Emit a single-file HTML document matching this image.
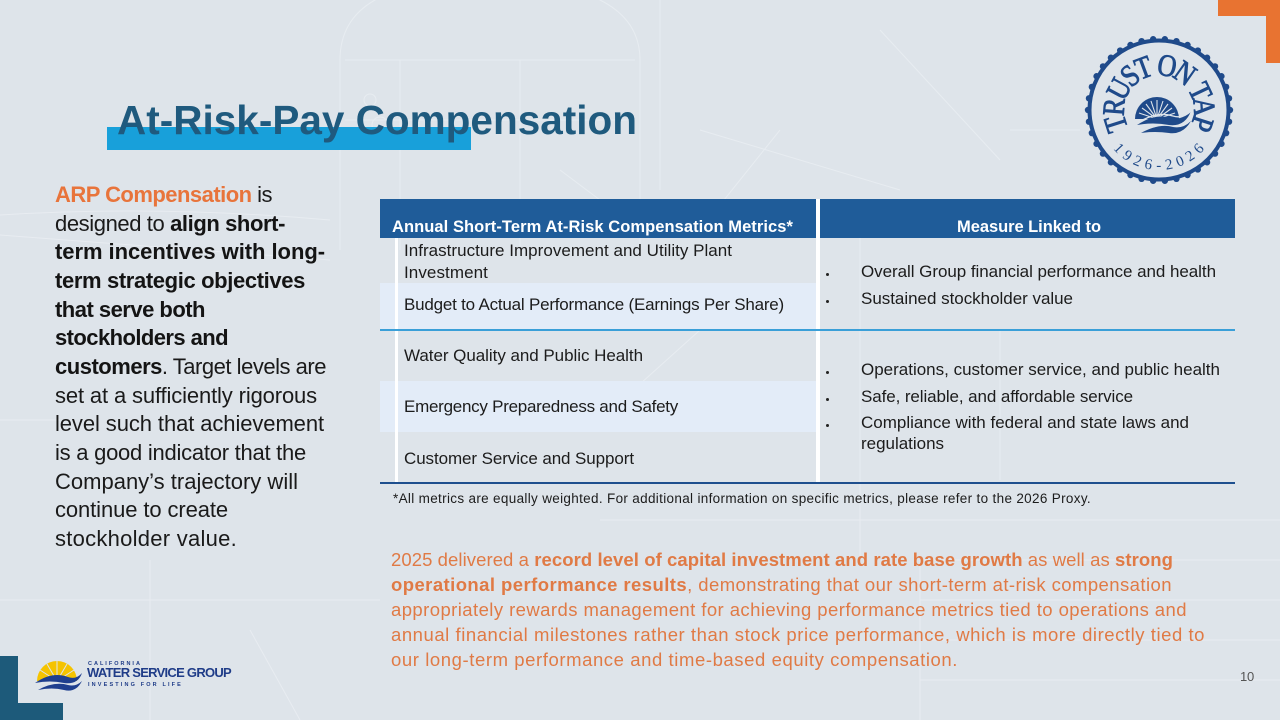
<!DOCTYPE html>
<html><head><meta charset="utf-8">
<style>
*{margin:0;padding:0;box-sizing:border-box}
html,body{width:1280px;height:720px;overflow:hidden}
body{position:relative;background:#dee4ea;font-family:"Liberation Sans",Arial,sans-serif;color:#1a1a1a}
.a{position:absolute}
.f{position:absolute;white-space:nowrap;line-height:1}
.lp{font-size:22px;line-height:28.67px;left:55px}
.lp b{font-weight:bold;color:#141414}
.t16{font-size:17px;color:#1c1c1c}
.hd{font-size:16.5px;font-weight:bold;color:#fff}
.bp{font-size:18.5px;color:#e07a45;left:391px}
.bp b{font-weight:bold}
.dot{position:absolute;width:3px;height:3px;border-radius:50%;background:#222;left:826px}
</style></head><body>

<!-- faint blueprint background -->
<svg class="a" style="left:0;top:0" width="1280" height="720">
<g fill="none" stroke="#f4f7fa" stroke-width="1" opacity="0.45">
<path d="M340 250 L340 60 Q340 -20 480 -20 Q640 -20 640 60 L640 250"/>
<path d="M345 60 L635 60 M345 120 L635 120 M400 60 L400 250 M520 60 L520 250"/>
<path d="M0 235 L330 260 M0 215 Q160 205 330 220"/>
<path d="M660 0 L660 190 M700 130 L900 190 M880 30 L1000 160"/>
<circle cx="380" cy="125" r="8"/><circle cx="370" cy="100" r="6"/>
<path d="M860 200 L860 560 M600 520 L1280 520 M920 560 L1280 560 M920 600 L1280 600 M920 640 L1280 640 M920 680 L1280 680 M920 560 L920 720"/>
<path d="M0 420 L60 420 M0 600 L380 600 M150 560 L150 720 M250 630 L300 720"/>
<path d="M1010 130 L1080 130"/>
<path d="M700 230 L780 130 M560 170 L600 200 M600 420 L700 330 M1000 330 L1000 480"/>
</g>
</svg>

<!-- orange corner -->
<div class="a" style="left:1218px;top:0;width:62px;height:16px;background:#e87331"></div>
<div class="a" style="left:1266px;top:0;width:14px;height:63px;background:#e87331"></div>

<!-- bottom-left teal corner -->
<div class="a" style="left:0;top:656px;width:18px;height:64px;background:#1d5a7a"></div>
<div class="a" style="left:0;top:703px;width:63px;height:17px;background:#1d5a7a"></div>

<!-- title -->
<div class="a" style="left:107px;top:127px;width:364px;height:23px;background:#18a0da"></div>
<div class="f" style="left:117px;top:99.7px;width:520px;font-size:40.5px;font-weight:bold;color:#1f5a7e">At-Risk-Pay Compensation</div>

<!-- left paragraph -->
<div class="f lp" style="top:181px;width:217px"><b style="color:#e8743b">ARP Compensation</b> is</div>
<div class="f lp" style="top:209.7px;width:230px">designed to <b>align short-</b></div>
<div class="f lp" style="top:238.3px;width:270px"><b>term incentives with long-</b></div>
<div class="f lp" style="top:267px;width:250px"><b>term strategic objectives</b></div>
<div class="f lp" style="top:295.7px;width:150px"><b>that serve both</b></div>
<div class="f lp" style="top:324.4px;width:173px"><b>stockholders and</b></div>
<div class="f lp" style="top:353px;width:271px"><b>customers</b>. Target levels are</div>
<div class="f lp" style="top:381.7px;width:262px">set at a sufficiently rigorous</div>
<div class="f lp" style="top:410.4px;width:269px">level such that achievement</div>
<div class="f lp" style="top:439px;width:251px">is a good indicator that the</div>
<div class="f lp" style="top:467.7px;width:243px">Company’s trajectory will</div>
<div class="f lp" style="top:496.4px;width:173px">continue to create</div>
<div class="f lp" style="top:525px;width:182px">stockholder value.</div>

<!-- table -->
<div class="a" style="left:380px;top:199px;width:436px;height:39px;background:#1f5c99"></div>
<div class="a" style="left:820px;top:199px;width:415px;height:39px;background:#1f5c99"></div>
<div class="a" style="left:380px;top:283px;width:436px;height:46px;background:#e3ecf8"></div>
<div class="a" style="left:380px;top:381px;width:436px;height:51px;background:#e3ecf8"></div>
<div class="a" style="left:395px;top:238px;width:3px;height:244px;background:#ffffff"></div>
<div class="a" style="left:816px;top:199px;width:4px;height:283px;background:#ffffff"></div>
<div class="a" style="left:380px;top:329px;width:855px;height:2px;background:#3a9fd8"></div>
<div class="a" style="left:380px;top:482px;width:855px;height:2px;background:#1e4f8e"></div>

<div class="f hd" style="left:392px;top:218.8px;width:401px">Annual Short-Term At-Risk Compensation Metrics*</div>
<div class="f hd" style="left:957px;top:218.8px;width:144px">Measure Linked to</div>

<div class="f t16" style="left:404px;top:241.6px;width:328px">Infrastructure Improvement and Utility Plant</div>
<div class="f t16" style="left:404px;top:264.3px;width:84px">Investment</div>
<div class="f t16" style="left:404px;top:295.6px;width:380px">Budget to Actual Performance (Earnings Per Share)</div>
<div class="f t16" style="left:404px;top:347.3px;width:239px">Water Quality and Public Health</div>
<div class="f t16" style="left:404px;top:398.3px;width:274px">Emergency Preparedness and Safety</div>
<div class="f t16" style="left:404px;top:449.6px;width:230px">Customer Service and Support</div>

<div class="dot" style="top:273px"></div>
<div class="dot" style="top:300px"></div>
<div class="dot" style="top:371px"></div>
<div class="dot" style="top:398px"></div>
<div class="dot" style="top:424px"></div>
<div class="f t16" style="left:861px;top:262.6px;width:355px">Overall Group financial performance and health</div>
<div class="f t16" style="left:861px;top:289.6px;width:212px">Sustained stockholder value</div>
<div class="f t16" style="left:861px;top:360.6px;width:359px">Operations, customer service, and public health</div>
<div class="f t16" style="left:861px;top:387.6px;width:272px">Safe, reliable, and affordable service</div>
<div class="f t16" style="left:861px;top:413.6px;width:328px">Compliance with federal and state laws and</div>
<div class="f t16" style="left:861px;top:434.6px;width:83px">regulations</div>

<div class="f" style="left:393px;top:491.6px;width:698px;font-size:13.5px;color:#1c1c1c">*All metrics are equally weighted. For additional information on specific metrics, please refer to the 2026 Proxy.</div>

<!-- bottom paragraph -->
<div class="f bp" style="top:550.6px;width:782px">2025 delivered a <b>record level of capital investment and rate base growth</b> as well as <b>strong</b></div>
<div class="f bp" style="top:575.6px;width:781px"><b>operational performance results</b>, demonstrating that our short-term at-risk compensation</div>
<div class="f bp" style="top:600.6px;width:796px">appropriately rewards management for achieving performance metrics tied to operations and</div>
<div class="f bp" style="top:625.6px;width:814px">annual financial milestones rather than stock price performance, which is more directly tied to</div>
<div class="f bp" style="top:651.2px;width:567px">our long-term performance and time-based equity compensation.</div>

<div class="f" style="left:1240px;top:670px;width:14px;font-size:13px;color:#555">10</div>

<!-- seal -->
<svg class="a" style="left:1079px;top:30px" width="160" height="160" viewBox="-80 -80 160 160">
<defs>
<path id="arcT" d="M -38.9 20.7 A 44 44 0 1 1 38.9 20.7" fill="none"/>
<path id="arcB" d="M -46 38.6 A 60 60 0 0 0 46 38.6" fill="none"/>
</defs>
<circle r="69.5" fill="none" stroke="#1f4a8a" stroke-width="4"/>
<g id="bumps" fill="#1f4a8a"></g>
<text font-family="'Liberation Serif',serif" font-size="31" fill="#1f4a8a" stroke="#1f4a8a" stroke-width="0.9" dy="9"><textPath href="#arcT" textLength="180" lengthAdjust="spacingAndGlyphs">TRUST ON TAP</textPath></text>
<text font-family="'Liberation Serif',serif" font-size="15" fill="#1f4a8a"><textPath href="#arcB" textLength="104" lengthAdjust="spacing">1926-2026</textPath></text>
<g transform="translate(-2,9)">
<path d="M-22 0 A22 22 0 0 1 22 0 Z" fill="#1f4a8a"/>
<g stroke="#dee4ea" stroke-width="1.1">
<line x1="0" y1="0" x2="0" y2="-19"/><line x1="0" y1="0" x2="-6" y2="-18"/><line x1="0" y1="0" x2="6" y2="-18"/>
<line x1="0" y1="0" x2="-11" y2="-15"/><line x1="0" y1="0" x2="11" y2="-15"/><line x1="0" y1="0" x2="-15" y2="-11"/><line x1="0" y1="0" x2="15" y2="-11"/>
<line x1="0" y1="0" x2="-18" y2="-6"/><line x1="0" y1="0" x2="18" y2="-6"/>
</g>
<path d="M-20 6 Q-2 -6 14 -1 Q24 2 34 -8 Q28 8 12 6 Q-4 3 -20 6 Z" fill="#1f4a8a"/>
<path d="M-16 14 Q2 4 16 8 Q26 10 34 2 Q26 16 12 14 Q-2 12 -16 14 Z" fill="#1f4a8a"/>
<path d="M-18 3 Q0 -8 16 -3 Q26 0 34 -8" stroke="#dee4ea" stroke-width="1.4" fill="none"/>
</g>
</svg>

<!-- company logo -->
<svg class="a" style="left:30px;top:655px" width="60" height="40" viewBox="0 0 60 40">
<path d="M7 26 A20 20 0 0 1 47 26 Z" fill="#f5c300"/>
<g stroke="#dee4ea" stroke-width="1">
<line x1="27" y1="26" x2="27" y2="6"/><line x1="27" y1="26" x2="17" y2="9"/><line x1="27" y1="26" x2="37" y2="9"/>
<line x1="27" y1="26" x2="10" y2="15"/><line x1="27" y1="26" x2="44" y2="15"/>
</g>
<path d="M5 28 Q22 16 38 22 Q46 25 52 18 Q48 30 34 28 Q20 25 5 28 Z" fill="#1f3f8f"/>
<path d="M8 35 Q24 26 38 30 Q46 32 52 26 Q46 38 34 35 Q22 32 8 35 Z" fill="#1f3f8f"/>
</svg>
<div class="f" style="left:88px;top:662px;font-size:5.5px;letter-spacing:2px;color:#1f3c88;font-weight:bold">CALIFORNIA</div>
<div class="f" style="left:87px;top:666.3px;width:144px;font-size:13px;font-weight:bold;color:#1f3c88">WATER SERVICE GROUP</div>
<div class="f" style="left:88px;top:683px;width:95px;font-size:5.5px;letter-spacing:3px;color:#1f3c88;font-weight:bold">INVESTING FOR LIFE</div>

<script>
(function(){
var g=document.getElementById('bumps');var ns='http://www.w3.org/2000/svg';
for(var i=0;i<38;i++){var a=i*2*Math.PI/38;var c=document.createElementNS(ns,'circle');c.setAttribute('cx',(71*Math.cos(a)).toFixed(2));c.setAttribute('cy',(71*Math.sin(a)).toFixed(2));c.setAttribute('r','3.2');g.appendChild(c);}
var els=document.querySelectorAll('.f');
for(var k=0;k<els.length;k++){var e=els[k];var t=parseFloat(e.style.width);if(!t)continue;
e.style.letterSpacing='0px';var r=document.createRange();r.selectNodeContents(e);var w=r.getBoundingClientRect().width;
var n=e.textContent.length;if(n>1){var ls=(t-w)/n;ls=Math.max(-2,Math.min(3,ls));e.style.letterSpacing=ls.toFixed(3)+'px';}}
})();
</script>
</body></html>
